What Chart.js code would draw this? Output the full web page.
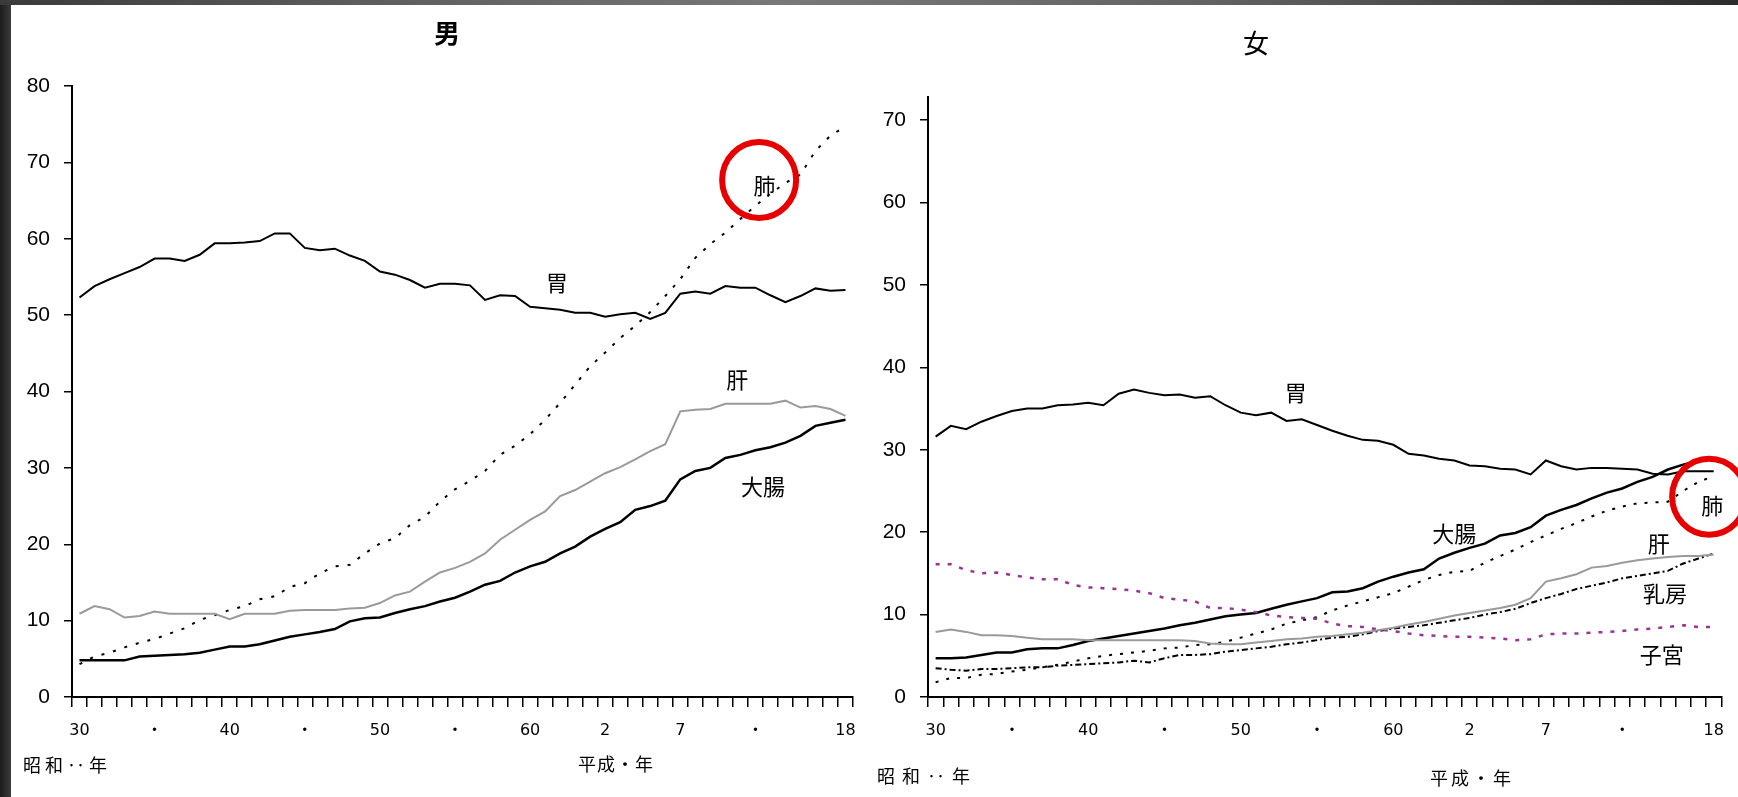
<!DOCTYPE html>
<html lang="ja">
<head>
<meta charset="UTF-8">
<title>部位別がん死亡率の推移</title>
<style>
  body { margin: 0; background: #fff; width: 1738px; height: 797px; position: relative; overflow: hidden; font-family: "Noto Sans CJK JP", sans-serif; }
  .topbar { position: absolute; left: 0; top: 0; width: 1738px; height: 5px; background: linear-gradient(to right, #3a3a3a 0%, #5c5c5c 20%, #787878 45%, #626262 70%, #2c2c2c 100%); }
  .leftbar { position: absolute; left: 0; top: 0; width: 11px; height: 797px; background: linear-gradient(to right, #1c1c1c, #3b3b3b); }
  canvas { position: absolute; top: 0; }
  #male { left: 0; }
  #female { left: 869px; }
  .txt { position: absolute; white-space: nowrap; color: #000; line-height: 1; transform: translateY(-50%); }
  .title { font-size: 26px; transform: translate(-50%, -50%); }
  .unit { font-size: 18px; }
</style>
</head>
<body>
<div class="leftbar"></div>
<div class="topbar"></div>
<canvas id="male" width="870" height="797"></canvas>
<canvas id="female" width="869" height="797"></canvas>

<div class="txt title" style="left:447px; top:32px; font-weight:bold;">男</div>
<div class="txt title" style="left:1256px; top:42px;">女</div>
<div class="txt unit" style="left:23px; top:764px; letter-spacing:4px;">昭和‥年</div>
<div class="txt unit" style="left:578px; top:763px; letter-spacing:1px;">平成・年</div>
<div class="txt unit" style="left:877px; top:775px; letter-spacing:7px;">昭和‥年</div>
<div class="txt unit" style="left:1430px; top:777px; letter-spacing:3px;">平成・年</div>

<script src="https://cdn.jsdelivr.net/npm/chart.js"></script>
<script>
// years: 昭和30 (1955) .. 平成18 (2006)
const years = [1955, 1956, 1957, 1958, 1959, 1960, 1961, 1962, 1963, 1964,
               1965, 1966, 1967, 1968, 1969, 1970, 1971, 1972, 1973, 1974,
               1975, 1976, 1977, 1978, 1979, 1980, 1981, 1982, 1983, 1984,
               1985, 1986, 1987, 1988, 1989, 1990, 1991, 1992, 1993, 1994,
               1995, 1996, 1997, 1998, 1999, 2000, 2001, 2002, 2003, 2004,
               2005, 2006];
const tickLabels = ['30', '', '', '', '', '・', '', '', '', '',
                    '40', '', '', '', '', '・', '', '', '', '',
                    '50', '', '', '', '', '・', '', '', '', '',
                    '60', '', '', '', '', '2', '', '', '', '',
                    '7', '', '', '', '', '・', '', '', '', '',
                    '', '18'];
const maleTicks = [0, 10, 20, 30, 40, 50, 60, 70, 80];
const femaleTicks = [0, 10, 20, 30, 40, 50, 60, 70];

// 男
const maleStomach = [52.3, 53.8, 54.7, 55.5, 56.3, 57.4, 57.4, 57.1, 57.9, 59.4,
                     59.4, 59.5, 59.7, 60.7, 60.7, 58.8, 58.5, 58.7, 57.8, 57.1,
                     55.7, 55.3, 54.6, 53.6, 54.1, 54.1, 53.9, 52.0, 52.6, 52.5,
                     51.1, 50.9, 50.7, 50.3, 50.3, 49.8, 50.1, 50.3, 49.5, 50.3,
                     52.8, 53.1, 52.8, 53.8, 53.6, 53.6, 52.6, 51.7, 52.5, 53.5,
                     53.2, 53.3];
const maleLung = [4.3, 5.3, 5.8, 6.5, 7.1, 7.6, 8.3, 9.0, 10.1, 10.7,
                  11.4, 11.9, 12.8, 13.2, 14.4, 14.9, 16.2, 17.1, 17.3, 18.8,
                  20.1, 20.8, 22.5, 23.6, 25.6, 27.2, 28.3, 29.6, 31.7, 32.9,
                  34.4, 36.3, 38.5, 40.9, 43.3, 45.1, 47.0, 48.6, 50.4, 52.5,
                  54.7, 57.5, 59.3, 60.8, 62.6, 64.3, 65.9, 67.3, 68.4, 71.5,
                  73.5, 74.7];
const maleLiver = [10.9, 11.9, 11.5, 10.4, 10.6, 11.2, 10.9, 10.9, 10.9, 10.9,
                   10.2, 10.9, 10.9, 10.9, 11.3, 11.4, 11.4, 11.4, 11.6, 11.7,
                   12.3, 13.3, 13.8, 15.1, 16.3, 16.9, 17.7, 18.8, 20.6, 21.9,
                   23.2, 24.3, 26.3, 27.1, 28.2, 29.3, 30.1, 31.1, 32.2, 33.1,
                   37.4, 37.6, 37.7, 38.4, 38.4, 38.4, 38.4, 38.8, 37.9, 38.1,
                   37.7, 36.8];
const maleColon = [4.8, 4.8, 4.8, 4.8, 5.3, 5.4, 5.5, 5.6, 5.8, 6.2,
                   6.6, 6.6, 6.9, 7.4, 7.9, 8.2, 8.5, 8.9, 9.9, 10.3,
                   10.4, 11.0, 11.5, 11.9, 12.5, 13.0, 13.8, 14.7, 15.2, 16.3,
                   17.1, 17.7, 18.8, 19.7, 21.0, 22.0, 22.9, 24.5, 25.0, 25.7,
                   28.5, 29.6, 30.0, 31.3, 31.7, 32.3, 32.7, 33.3, 34.2, 35.5,
                   35.9, 36.3];

// 女
const femaleStomach = [31.6, 32.9, 32.5, 33.4, 34.1, 34.7, 35.0, 35.0, 35.4, 35.5,
                       35.7, 35.4, 36.8, 37.3, 36.9, 36.6, 36.7, 36.3, 36.5, 35.4,
                       34.5, 34.2, 34.5, 33.5, 33.7, 33.0, 32.3, 31.7, 31.2, 31.1,
                       30.6, 29.5, 29.3, 28.9, 28.7, 28.1, 28.0, 27.7, 27.6, 27.0,
                       28.7, 28.0, 27.6, 27.8, 27.8, 27.7, 27.6, 27.1, 27.0, 27.4,
                       27.4, 27.4];
const femaleColon = [4.7, 4.7, 4.8, 5.1, 5.4, 5.4, 5.8, 5.9, 5.9, 6.3,
                     6.8, 7.1, 7.4, 7.7, 8.0, 8.3, 8.7, 9.0, 9.4, 9.8,
                     10.0, 10.2, 10.7, 11.2, 11.6, 12.0, 12.7, 12.8, 13.2, 14.0,
                     14.6, 15.1, 15.5, 16.8, 17.5, 18.1, 18.6, 19.6, 19.9, 20.6,
                     22.0, 22.7, 23.3, 24.1, 24.8, 25.3, 26.1, 26.7, 27.6, 28.2,
                     28.7, 28.9];
const femaleLung = [1.8, 2.3, 2.3, 2.7, 2.8, 3.1, 3.3, 3.6, 3.9, 4.3,
                    4.7, 5.0, 5.2, 5.4, 5.6, 5.9, 6.0, 6.3, 6.4, 6.7,
                    7.2, 7.7, 8.2, 8.9, 9.3, 9.7, 10.5, 11.1, 11.6, 12.1,
                    12.6, 13.4, 14.2, 14.8, 15.2, 15.3, 16.3, 17.1, 17.9, 18.8,
                    19.6, 20.4, 21.1, 21.9, 22.6, 23.1, 23.5, 23.6, 23.7, 25.0,
                    26.1, 26.8];
const femaleLiver = [7.9, 8.2, 7.9, 7.5, 7.5, 7.4, 7.2, 7.0, 7.0, 7.0,
                     6.9, 6.9, 6.9, 6.9, 6.9, 6.9, 6.9, 6.8, 6.5, 6.4,
                     6.4, 6.6, 6.8, 7.0, 7.1, 7.3, 7.4, 7.6, 7.8, 8.1,
                     8.4, 8.8, 9.1, 9.5, 9.9, 10.2, 10.5, 10.8, 11.2, 12.0,
                     14.0, 14.4, 14.9, 15.7, 15.9, 16.3, 16.6, 16.8, 17.0, 17.1,
                     17.1, 17.3];
const femaleBreast = [3.5, 3.3, 3.2, 3.4, 3.4, 3.5, 3.6, 3.6, 3.8, 3.9,
                      4.0, 4.1, 4.2, 4.4, 4.2, 4.7, 5.1, 5.1, 5.2, 5.5,
                      5.7, 5.9, 6.1, 6.4, 6.6, 6.9, 7.2, 7.3, 7.6, 8.0,
                      8.3, 8.5, 8.7, 9.0, 9.3, 9.6, 10.0, 10.3, 10.7, 11.4,
                      12.0, 12.5, 13.1, 13.5, 13.9, 14.4, 14.7, 15.0, 15.3, 16.2,
                      16.8, 17.4];
const femaleUterus = [16.1, 16.1, 15.4, 15.0, 15.1, 14.8, 14.5, 14.3, 14.3, 13.6,
                      13.3, 13.2, 13.1, 12.9, 12.6, 12.0, 11.8, 11.6, 10.8, 10.8,
                      10.6, 10.3, 9.9, 9.7, 9.6, 9.5, 8.9, 8.6, 8.5, 8.2,
                      8.0, 7.7, 7.5, 7.4, 7.3, 7.3, 7.2, 7.1, 6.9, 7.0,
                      7.6, 7.7, 7.7, 7.8, 7.9, 8.0, 8.2, 8.3, 8.5, 8.7,
                      8.5, 8.5];

// series names drawn next to the lines: [category index, value]
const maleNotes = [
  { text: '胃', at: [31.8, 54.3] },
  { text: '肺', at: [45.6, 67.0] },
  { text: '肝', at: [43.8, 41.5] },
  { text: '大腸', at: [45.5, 27.5] }
];
const femaleNotes = [
  { text: '胃', at: [23.6, 36.9] },
  { text: '大腸', at: [34.0, 19.8] },
  { text: '肝', at: [47.4, 18.6] },
  { text: '乳房', at: [47.8, 12.6] },
  { text: '子宮', at: [47.6, 5.1] },
  { text: '肺', at: [50.9, 23.2] }
];

const BLACK = '#000';
const GRAY = '#9a9a9a';
const PURPLE = '#993399';

function line(label, data, color, width, dash) {
  return {
    label: label,
    data: data,
    borderColor: color,
    borderWidth: width,
    borderDash: dash || [],
    pointRadius: 0,
    fill: false,
    tension: 0
  };
}

// draws the series names and the red rings
const notesPlugin = {
  id: 'notes',
  afterDraw(chart, args, opts) {
    const ctx = chart.ctx;
    const xs = chart.scales.x, ys = chart.scales.y;
    ctx.save();
    ctx.fillStyle = '#000';
    ctx.font = '22px "Noto Sans CJK JP"';
    ctx.textAlign = 'center';
    ctx.textBaseline = 'middle';
    opts.labels.forEach(l => {
      ctx.fillText(l.text, xs.getPixelForValue(l.at[0]), ys.getPixelForValue(l.at[1]));
    });
    ctx.strokeStyle = '#e60000';
    ctx.lineWidth = 6;
    opts.rings.forEach(r => {
      ctx.beginPath();
      ctx.ellipse(xs.getPixelForValue(r.at[0]), ys.getPixelForValue(r.at[1]), 37, 38, 0, 0, Math.PI * 2);
      ctx.stroke();
    });
    ctx.restore();
  }
};

function makeOptions(yMax, yTicks, yWidth, padTop, padRight, notes, rings) {
  return {
    responsive: false,
    animation: false,
    layout: { padding: { left: 0, top: padTop, right: padRight, bottom: 0 } },
    plugins: {
      legend: { display: false },
      tooltip: { enabled: false },
      notes: { labels: notes, rings: rings }
    },
    scales: {
      x: {
        type: 'category',
        offset: true,
        afterFit: s => { s.height = 100; },
        grid: { offset: true, drawOnChartArea: false, drawTicks: true, tickLength: 10, color: BLACK, lineWidth: 1.5 },
        border: { display: true, color: BLACK, width: 2 },
        ticks: {
          autoSkip: false, maxRotation: 0, minRotation: 0, padding: 14,
          color: BLACK,
          font: { family: '"DejaVu Sans", "Noto Sans CJK JP"', size: 16 },
          callback: (v, i) => tickLabels[i]
        }
      },
      y: {
        min: 0,
        max: yMax,
        afterFit: s => { s.width = yWidth; },
        afterBuildTicks: s => { s.ticks = yTicks.map(v => ({ value: v })); },
        grid: { drawOnChartArea: false, drawTicks: true, tickLength: 8, color: BLACK, lineWidth: 1.5 },
        border: { display: true, color: BLACK, width: 2 },
        ticks: {
          padding: 14, color: BLACK,
          font: { family: '"Liberation Sans", Arial, sans-serif', size: 21 }
        }
      }
    }
  };
}

new Chart(document.getElementById('male'), {
  type: 'line',
  data: {
    labels: years,
    datasets: [
      line('肝', maleLiver, GRAY, 2),
      line('胃', maleStomach, BLACK, 2),
      line('大腸', maleColon, BLACK, 2.5),
      line('肺', maleLung, BLACK, 2, [3, 9])
    ]
  },
  options: makeOptions(80, maleTicks, 72, 86, 17, maleNotes, [{ at: [45.25, 67.7] }]),
  plugins: [notesPlugin]
});

new Chart(document.getElementById('female'), {
  type: 'line',
  data: {
    labels: years,
    datasets: [
      line('肝', femaleLiver, GRAY, 2),
      line('子宮', femaleUterus, PURPLE, 2.5, [4, 8]),
      line('胃', femaleStomach, BLACK, 2),
      line('大腸', femaleColon, BLACK, 2.5),
      line('乳房', femaleBreast, BLACK, 2, [6, 3, 2, 3]),
      line('肺', femaleLung, BLACK, 2, [3, 8])
    ]
  },
  options: makeOptions(72.8, femaleTicks, 59, 97, 12, femaleNotes, [{ at: [50.7, 24.3] }]),
  plugins: [notesPlugin]
});
</script>
</body>
</html>
